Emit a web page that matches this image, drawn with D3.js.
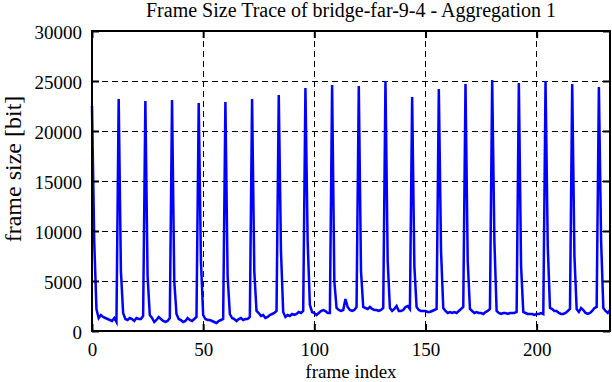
<!DOCTYPE html>
<html lang="en">
  <head>
    <meta charset="UTF-8" />
    <title>Frame Size Trace</title>
    <script src="https://d3js.org/d3.v7.min.js"></script>
    <style>
      body { margin: 0; background: #fff; }
      text { font-family: 'Liberation Serif', 'Times New Roman', serif; fill: #000; }
    </style>
  </head>
  <body>
    <svg width="612" height="382"></svg>
    <script>
      // frame sizes in bit, one per frame index (I-frame every 12)
      var frameSizes = [
        22500, 9000, 2200, 1300, 1600, 1400, 1300, 1200, 1100, 1000, 1300, 900,
        23200, 6000, 1800, 1200, 1100, 1300, 1200, 1000, 1300, 1200, 1200, 1500,
        23000, 5500, 1600, 1300, 900, 1100, 1400, 1200, 1000, 900, 1000, 1300,
        23100, 5000, 1700, 1200, 1100, 900, 1000, 1300, 1100, 1000, 1200, 1400,
        22800, 7000, 1600, 1200, 1100, 1100, 1000, 900, 800, 1000, 1100, 1200,
        22900, 5500, 1700, 1300, 1200, 1000, 1200, 1300, 1100, 1200, 1200, 1400,
        23200, 6000, 2000, 1800, 1500, 1600, 1300, 1400, 1600, 1700, 1800, 2000,
        23600, 8000, 1900, 1400, 1600, 1500, 1700, 1600, 1700, 1900, 1800, 2000,
        24300, 9000, 2600, 1900, 1800, 1600, 1800, 2000, 2100, 2000, 1800, 1800,
        24600, 5000, 2300, 2100, 2000, 2100, 3200, 2400, 2100, 2000, 2100, 2400,
        24500, 6000, 2400, 2300, 2200, 2400, 2200, 2100, 2100, 2000, 2100, 2300,
        25000, 7000, 2300, 2000, 2200, 2500, 2000, 2000, 2100, 2400, 2500, 2200,
        23400, 6500, 2400, 2100, 2000, 2000, 2000, 1900, 1900, 2000, 2100, 2200,
        24200, 8000, 2300, 2000, 1800, 1900, 1800, 1900, 1800, 2000, 2200, 2400,
        24700, 7000, 2200, 2000, 1800, 1900, 1800, 1800, 1700, 1900, 2000, 2200,
        25100, 9000, 2000, 1800, 1700, 1800, 1800, 1700, 1800, 1800, 1800, 1900,
        24800, 6500, 1900, 1800, 1700, 1700, 1700, 1600, 1700, 1700, 1800, 1700,
        25000, 8500, 2300, 2200, 2000, 2000, 1800, 1700, 1700, 1800, 2000, 2200,
        24700, 7500, 2200, 1900, 2300, 2100, 1800, 1700, 1800, 2000, 2300, 2400,
        24400, 9000, 2300, 2000, 1800, 2100
      ]
      var xTicks = [0, 50, 100, 150, 200]
      var yTicks = [0, 5000, 10000, 15000, 20000, 25000, 30000]
      var xGrid = [50, 100, 150, 200]
      var yGrid = [5000, 10000, 15000, 20000, 25000]

      var margin = { top: 31, right: 2, bottom: 51, left: 92 }
      var svg = d3.select('svg')
      var width = +svg.attr('width') - margin.left - margin.right
      var height = +svg.attr('height') - margin.top - margin.bottom
      var g = svg
        .append('g')
        .attr('transform', `translate(${margin.left}, ${margin.top})`)

      var x = d3.scaleLinear().domain([0, frameSizes.length - 1]).range([0, width])
      var y = d3.scaleLinear().domain([0, 30000]).range([height, 0])

      // dashed grid
      var grid = g.append('g')
      grid.selectAll('.hgrid')
        .data(yGrid)
        .enter()
        .append('line')
        .attr('x1', 0)
        .attr('x2', width)
        .attr('y1', d => y(d))
        .attr('y2', d => y(d))
      grid.selectAll('.vgrid')
        .data(xGrid)
        .enter()
        .append('line')
        .attr('x1', d => x(d))
        .attr('x2', d => x(d))
        .attr('y1', 0)
        .attr('y2', height)
      grid.selectAll('line')
        .attr('stroke', 'black')
        .attr('stroke-width', 1)
        .attr('stroke-dasharray', '6,4')
        .attr('shape-rendering', 'crispEdges')

      // the trace
      var line = d3
        .line()
        .x((d, i) => x(i))
        .y(d => y(d))
      g.append('path')
        .attr('d', line(frameSizes))
        .attr('fill', 'none')
        .attr('stroke', '#0000ff')
        .attr('stroke-width', 2.5)
        .attr('stroke-linejoin', 'miter')

      // axes, ticks pointing inward on all four sides
      var fmt = d3.format('d')
      var axBottom = g.append('g')
        .attr('transform', `translate(0, ${height})`)
        .call(d3.axisBottom(x).tickValues(xTicks).tickSize(-7).tickPadding(12).tickFormat(fmt))
      var axLeft = g.append('g')
        .call(d3.axisLeft(y).tickValues(yTicks).tickSize(-7).tickPadding(10).tickFormat(fmt))
      var axTop = g.append('g')
        .call(d3.axisTop(x).tickValues(xTicks).tickSize(-7).tickFormat(''))
      var axRight = g.append('g')
        .attr('transform', `translate(${width}, 0)`)
        .call(d3.axisRight(y).tickValues(yTicks).tickSize(-7).tickFormat(''))
      ;[axBottom, axLeft, axTop, axRight].forEach(a => {
        a.attr('font-family', null).attr('font-size', 19)
        a.select('.domain').remove()
        a.selectAll('.tick line').attr('stroke', 'black').attr('stroke-width', 2)
      })
      axLeft.selectAll('text').attr('dy', '0.42em')

      // border
      g.append('rect')
        .attr('width', width)
        .attr('height', height)
        .attr('fill', 'none')
        .attr('stroke', 'black')
        .attr('stroke-width', 2)
        .attr('shape-rendering', 'crispEdges')

      // labels
      svg.append('text')
        .attr('x', margin.left + width / 2)
        .attr('y', 17)
        .attr('text-anchor', 'middle')
        .attr('font-size', 20)
        .text('Frame Size Trace of bridge-far-9-4 - Aggregation 1')
      svg.append('text')
        .attr('x', margin.left + width / 2)
        .attr('y', 378)
        .attr('text-anchor', 'middle')
        .attr('font-size', 19)
        .text('frame index')
      svg.append('text')
        .attr('transform', 'translate(21, 169) rotate(-90)')
        .attr('text-anchor', 'middle')
        .attr('font-size', 24)
        .text('frame size [bit]')
    </script>
  </body>
</html>
